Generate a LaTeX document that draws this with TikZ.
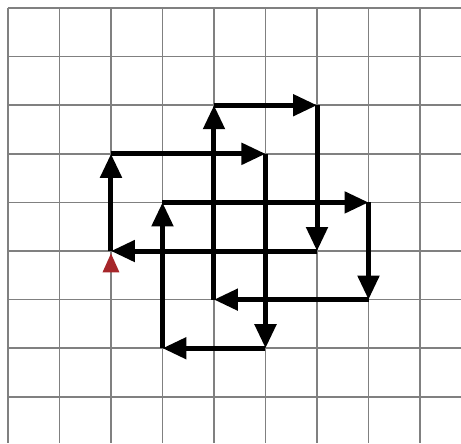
\documentclass[tikz,border=0pt]{standalone}
\usepackage{xcolor}
\usepackage{tikz}
\usetikzlibrary{arrows.meta, calc}
\definecolor{gridgray}{RGB}{128, 128, 128}
\definecolor{startred}{RGB}{166, 38, 42}
\tikzset{
  % Background grid line
  gridline/.style={draw=gridgray, line width=0.85pt},
  % Path step with arrow
  walk/.style={-{Triangle[length=0.48cm, width=0.42cm]}, line width=0.1cm, color=black},
  % Start marker
  startmark/.style={fill=startred},
}

\begin{document}
\begin{tikzpicture}[x=1.03cm, y=-0.972cm]
  \useasboundingbox (-0.155,-0.165) rectangle (8.796,8.951);
  % grid
  \foreach \i in {0,...,8} {
    \draw[gridline] (\i,0) -- (\i,8.951);
    \draw[gridline] (0,\i) -- (8.796,\i);
  }
  % corners of the walk
  \coordinate (p0)  at (2,5);
  \coordinate (p1)  at (2,3);
  \coordinate (p2)  at (5,3);
  \coordinate (p3)  at (5,7);
  \coordinate (p4)  at (3,7);
  \coordinate (p5)  at (3,4);
  \coordinate (p6)  at (7,4);
  \coordinate (p7)  at (7,6);
  \coordinate (p8)  at (4,6);
  \coordinate (p9)  at (4,2);
  \coordinate (p10) at (6,2);
  \coordinate (p11) at (6,5);
  % start marker
  \fill[startmark] ($(p0)+(0,0.05)$) -- ($(p0)+(0.165,0.44)$) -- ($(p0)+(-0.165,0.44)$) -- cycle;
  % the walk
  \draw[walk] (p0)  -- (p1);
  \draw[walk] (p1)  -- (p2);
  \draw[walk] (p2)  -- (p3);
  \draw[walk] (p3)  -- (p4);
  \draw[walk] (p4)  -- (p5);
  \draw[walk] (p5)  -- (p6);
  \draw[walk] (p6)  -- (p7);
  \draw[walk] (p7)  -- (p8);
  \draw[walk] (p8)  -- (p9);
  \draw[walk] (p9)  -- (p10);
  \draw[walk] (p10) -- (p11);
  \draw[walk] (p11) -- (p0);
\end{tikzpicture}
\end{document}
